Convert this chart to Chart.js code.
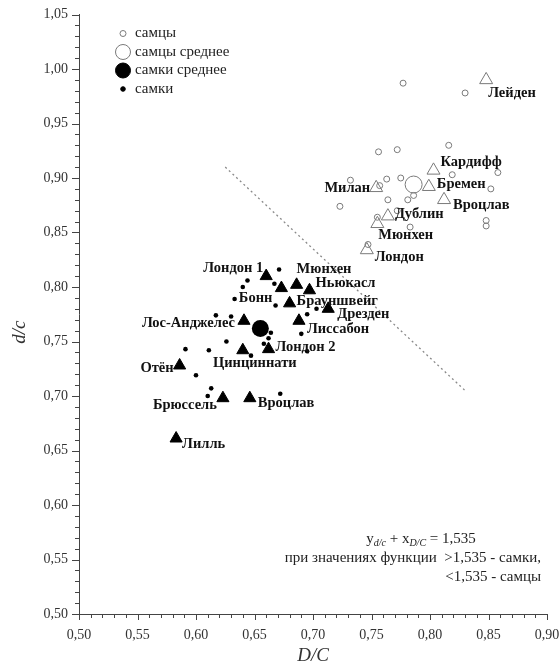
<!DOCTYPE html>
<html>
<head>
<meta charset="utf-8">
<script src="https://cdn.jsdelivr.net/npm/chart.js@4/dist/chart.umd.min.js"></script>
<style>
  html, body { margin: 0; padding: 0; background: #fff; }
  canvas { display: block; }
</style>
</head>
<body>
<canvas id="c" width="560" height="672"></canvas>
<script>
// Individual skulls: males
const maleX = [0.777, 0.830, 0.756, 0.772, 0.816, 0.819, 0.858, 0.732, 0.763, 0.775, 0.852,
               0.757, 0.764, 0.781, 0.786, 0.723, 0.848, 0.848, 0.755, 0.772, 0.783, 0.747];
const maleY = [0.987, 0.978, 0.924, 0.926, 0.930, 0.903, 0.905, 0.898, 0.899, 0.900, 0.890,
               0.893, 0.880, 0.880, 0.884, 0.874, 0.861, 0.856, 0.864, 0.870, 0.855, 0.839];

// Individual skulls: females
const femaleX = [0.671, 0.644, 0.640, 0.667, 0.633, 0.668, 0.695, 0.703, 0.617, 0.630, 0.664, 0.690,
                 0.626, 0.658, 0.611, 0.695, 0.647, 0.672, 0.613, 0.610, 0.591, 0.600, 0.662];
const femaleY = [0.816, 0.806, 0.800, 0.803, 0.789, 0.783, 0.775, 0.780, 0.774, 0.773, 0.758, 0.757,
                 0.750, 0.748, 0.742, 0.741, 0.737, 0.702, 0.707, 0.700, 0.743, 0.719, 0.753];

// Overall means
const maleMean = [0.786, 0.894];
const femaleMean = [0.655, 0.762];

// Population means, males
const malePopNames = ['Лейден', 'Кардифф', 'Бремен', 'Вроцлав', 'Милан', 'Дублин', 'Мюнхен', 'Лондон'];
const malePopX = [0.848, 0.803, 0.799, 0.812, 0.754, 0.764, 0.755, 0.746];
const malePopY = [0.990, 0.907, 0.892, 0.880, 0.891, 0.865, 0.858, 0.834];

// Population means, females
const femalePopNames = ['Лондон 1', 'Бонн', 'Мюнхен', 'Ньюкасл', 'Брауншвейг', 'Дрезден', 'Лиссабон',
                        'Лос-Анджелес', 'Лондон 2', 'Цинциннати', 'Отён', 'Брюссель', 'Вроцлав', 'Лилль'];
const femalePopX = [0.660, 0.673, 0.686, 0.697, 0.680, 0.713, 0.688, 0.641, 0.662, 0.640, 0.586, 0.623, 0.646, 0.583];
const femalePopY = [0.810, 0.799, 0.802, 0.797, 0.785, 0.780, 0.769, 0.769, 0.743, 0.742, 0.728, 0.698, 0.698, 0.661];

// Discriminant line y + x = 1,535, drawn between these abscissas
const DISCRIMINANT = 1.535;
const lineX = [0.625, 0.830];

// Axis ticks
const xTicks = [0.50, 0.55, 0.60, 0.65, 0.70, 0.75, 0.80, 0.85, 0.90];
const yTicks = [0.50, 0.55, 0.60, 0.65, 0.70, 0.75, 0.80, 0.85, 0.90, 0.95, 1.00, 1.05];

// Legend entries
const legendLabels = ['самцы', 'самцы среднее', 'самки среднее', 'самки'];

// Label placement next to each population marker: [dx, dy, align]
const maleLabelSpots = [
  [2, 13, 'left'], [7, -8, 'left'], [8, -2, 'left'], [9, 5, 'left'],
  [-6, 0, 'right'], [7, -2, 'left'], [1, 11, 'left'], [8, 7, 'left']
];
const femaleLabelSpots = [
  [-3, -8, 'right'], [-9, 10, 'right'], [0, -16, 'left'], [6, -7, 'left'],
  [7, -2, 'left'], [9, 5, 'left'], [8, 8, 'left'], [-9, 2, 'right'],
  [7, -2, 'left'], [12, 13, 'center'], [-6, 3, 'right'], [-6, 7, 'right'],
  [8, 5, 'left'], [6, 6, 'left']
];

const SERIF = '"Liberation Serif", "Times New Roman", serif';
const zip = (xs, ys) => xs.map((v, i) => ({ x: v, y: ys[i] }));
const fmt = v => v.toFixed(2).replace('.', ',');

const MALE_COLOR = '#7a7a7a';
const FEMALE_COLOR = '#000';

const overlay = {
  id: 'overlay',
  afterDatasetsDraw(chart) {
    const { ctx, chartArea, scales: { x, y } } = chart;
    ctx.save();

    // minor and major tick marks
    ctx.strokeStyle = '#444';
    ctx.lineWidth = 1;
    for (let i = 0; i <= 55; i++) {
      const py = Math.round(y.getPixelForValue(0.5 + i * 0.01)) + 0.5;
      const len = i % 5 === 0 ? 7 : 4;
      ctx.beginPath();
      ctx.moveTo(chartArea.left - len, py);
      ctx.lineTo(chartArea.left, py);
      ctx.stroke();
    }
    for (let i = 0; i <= 40; i++) {
      const px = Math.round(x.getPixelForValue(0.5 + i * 0.01)) + 0.5;
      const len = i % 5 === 0 ? 6 : 4;
      ctx.beginPath();
      ctx.moveTo(px, chartArea.bottom);
      ctx.lineTo(px, chartArea.bottom + len);
      ctx.stroke();
    }

    // vertical axis title
    ctx.save();
    ctx.translate(20, (chartArea.top + chartArea.bottom) / 2 + 18);
    ctx.rotate(-Math.PI / 2);
    ctx.font = 'italic 19px ' + SERIF;
    ctx.fillStyle = '#333';
    ctx.textAlign = 'center';
    ctx.textBaseline = 'middle';
    ctx.fillText('d/c', 0, 0);
    ctx.restore();

    // population labels
    ctx.fillStyle = '#111';
    ctx.textBaseline = 'middle';
    ctx.font = 'bold 14.5px ' + SERIF;
    const put = (names, xs, ys, spots) => {
      names.forEach((n, i) => {
        const [dx, dy, al] = spots[i];
        ctx.textAlign = al;
        ctx.fillText(n, x.getPixelForValue(xs[i]) + dx, y.getPixelForValue(ys[i]) + dy);
      });
    };
    put(malePopNames, malePopX, malePopY, maleLabelSpots);
    put(femalePopNames, femalePopX, femalePopY, femaleLabelSpots);

    // legend
    const lx = chartArea.left + 44, ly0 = chartArea.top + 19, step = 18.5;
    const markers = [
      { r: 3, fill: null, stroke: MALE_COLOR },
      { r: 7.5, fill: null, stroke: MALE_COLOR },
      { r: 7.5, fill: FEMALE_COLOR, stroke: FEMALE_COLOR },
      { r: 2.3, fill: FEMALE_COLOR, stroke: FEMALE_COLOR }
    ];
    ctx.font = '15px ' + SERIF;
    ctx.textAlign = 'left';
    legendLabels.forEach((t, i) => {
      const cy = ly0 + i * step;
      const m = markers[i];
      ctx.beginPath();
      ctx.arc(lx, cy, m.r, 0, Math.PI * 2);
      if (m.fill) { ctx.fillStyle = m.fill; ctx.fill(); }
      ctx.strokeStyle = m.stroke; ctx.lineWidth = 1; ctx.stroke();
      ctx.fillStyle = '#222';
      ctx.fillText(t, lx + 12, cy);
    });

    // equation block
    const right = chartArea.right - 6;
    const l1 = chartArea.bottom - 75, l2 = chartArea.bottom - 56, l3 = chartArea.bottom - 37;
    ctx.fillStyle = '#222';
    const big = '15px ' + SERIF, sub = 'italic 10px ' + SERIF;
    const parts = [
      ['y', big, 0], ['d/c', sub, 4], [' + x', big, 0], ['D/C', sub, 4], [' = 1,535', big, 0]
    ];
    let total = 0;
    parts.forEach(p => { ctx.font = p[1]; total += ctx.measureText(p[0]).width; });
    let cx = 421 - total / 2;
    ctx.textAlign = 'left';
    parts.forEach(p => {
      ctx.font = p[1];
      ctx.fillText(p[0], cx, l1 + p[2]);
      cx += ctx.measureText(p[0]).width;
    });
    ctx.font = big;
    ctx.textAlign = 'right';
    ctx.fillText('при значениях функции  >1,535 - самки,', right, l2);
    ctx.fillText('<1,535 - самцы', right, l3);

    ctx.restore();
  }
};

new Chart(document.getElementById('c'), {
  type: 'scatter',
  data: {
    datasets: [
      {
        label: 'самки', data: zip(femaleX, femaleY),
        pointStyle: 'circle', pointRadius: 2.3, borderWidth: 0,
        backgroundColor: FEMALE_COLOR, borderColor: FEMALE_COLOR
      },
      {
        label: 'самцы', data: zip(maleX, maleY),
        pointStyle: 'circle', pointRadius: 3, borderWidth: 1,
        backgroundColor: 'rgba(0,0,0,0)', borderColor: MALE_COLOR
      },
      {
        label: 'самки популяции', data: zip(femalePopX, femalePopY),
        pointStyle: 'triangle', pointRadius: 7, borderWidth: 1,
        backgroundColor: FEMALE_COLOR, borderColor: FEMALE_COLOR
      },
      {
        label: 'самцы популяции', data: zip(malePopX, malePopY),
        pointStyle: 'triangle', pointRadius: 7.5, borderWidth: 1,
        backgroundColor: 'rgba(0,0,0,0)', borderColor: MALE_COLOR
      },
      {
        label: 'самки среднее', data: [{ x: femaleMean[0], y: femaleMean[1] }],
        pointStyle: 'circle', pointRadius: 8.5, borderWidth: 0,
        backgroundColor: FEMALE_COLOR
      },
      {
        label: 'самцы среднее', data: [{ x: maleMean[0], y: maleMean[1] }],
        pointStyle: 'circle', pointRadius: 8.5, borderWidth: 1,
        backgroundColor: 'rgba(0,0,0,0)', borderColor: MALE_COLOR
      },
      {
        label: 'y + x = 1,535', data: lineX.map(v => ({ x: v, y: DISCRIMINANT - v })),
        showLine: true, pointRadius: 0, borderColor: '#8a8a8a', borderWidth: 1.3,
        borderDash: [2, 3]
      }
    ]
  },
  options: {
    responsive: false,
    animation: false,
    layout: { padding: 0 },
    plugins: { legend: { display: false }, tooltip: { enabled: false } },
    scales: {
      x: {
        type: 'linear', min: xTicks[0], max: xTicks[xTicks.length - 1],
        afterBuildTicks: s => { s.ticks = xTicks.map(v => ({ value: v })); },
        border: { display: true, color: '#444', width: 1 },
        grid: { display: true, drawOnChartArea: false, drawTicks: false },
        ticks: { padding: 13, color: '#333', font: { family: SERIF, size: 14 }, callback: v => fmt(v) },
        title: { display: true, text: 'D/C', color: '#333', padding: { top: 0, bottom: 5 },
                 font: { family: SERIF, size: 19, style: 'italic' } },
        afterFit: s => { s.height = 58; s.paddingLeft = 0; s.paddingRight = 13; }
      },
      y: {
        type: 'linear', min: yTicks[0], max: yTicks[yTicks.length - 1],
        afterBuildTicks: s => { s.ticks = yTicks.map(v => ({ value: v })); },
        border: { display: true, color: '#444', width: 1 },
        grid: { display: true, drawOnChartArea: false, drawTicks: false },
        ticks: { padding: 11, color: '#333', font: { family: SERIF, size: 14 }, callback: v => fmt(v) },
        title: { display: false },
        afterFit: s => { s.width = 79; s.paddingTop = 14.5; s.paddingBottom = 0; }
      }
    }
  },
  plugins: [overlay]
});
</script>
</body>
</html>
